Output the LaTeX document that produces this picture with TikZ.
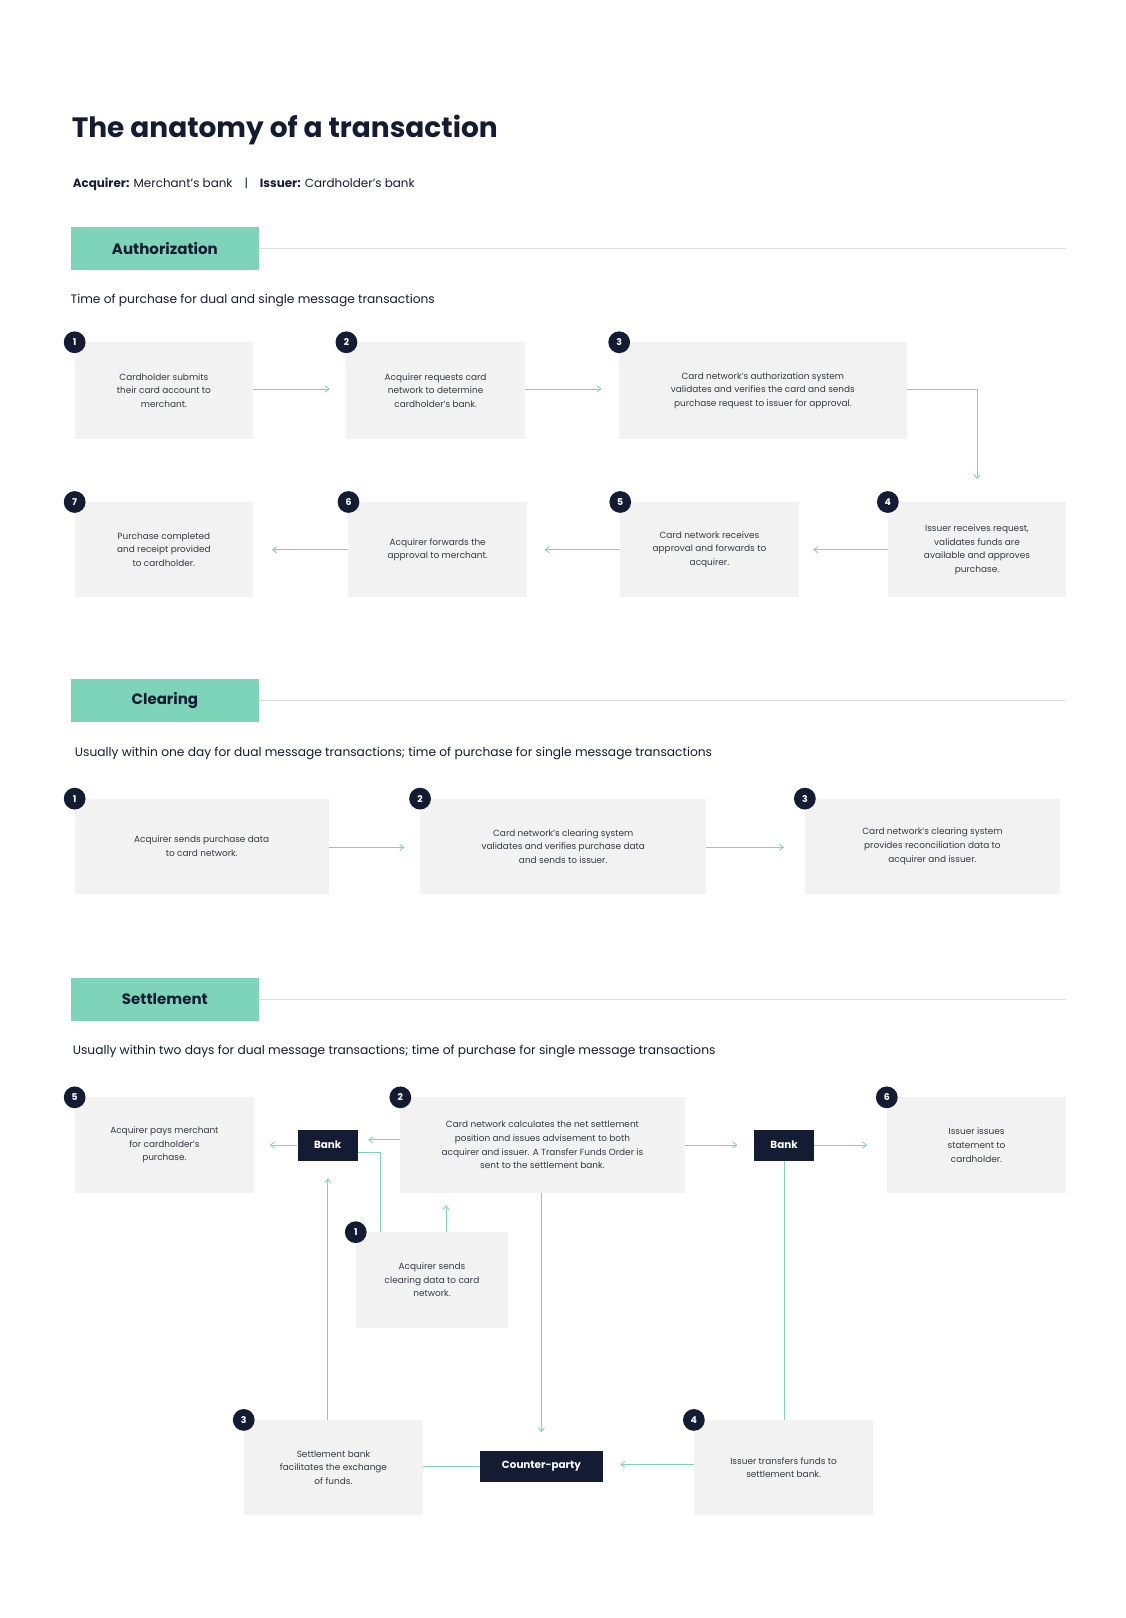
\documentclass[tikz,border=0pt]{standalone}
\usepackage{fontspec}
\setmainfont{Poppins}
\usetikzlibrary{arrows.meta}
\definecolor{navy}{HTML}{141C33}
\definecolor{teal}{HTML}{7DD4B9}
\definecolor{boxg}{HTML}{F2F2F2}
\definecolor{lineg}{HTML}{DDDDDD}
\definecolor{txt}{HTML}{333845}
\tikzset{
  stepbox/.style={fill=boxg,draw=none,inner sep=0pt},
  btxt/.style={text=txt,align=center,font=\fontsize{8.6}{13.2}\selectfont},
  badge/.style={circle,fill=navy,text=white,inner sep=0pt,minimum size=21pt,font=\fontsize{9}{9}\selectfont\bfseries},
  dark/.style={fill=navy,text=white,inner sep=0pt,font=\fontsize{10}{10}\selectfont\bfseries},
  hdr/.style={fill=teal,text=navy,inner sep=0pt,font=\fontsize{14.5}{14.5}\selectfont\bfseries},
  arr/.style={draw=teal,line width=0.8pt,-{Straight Barb[length=4pt,width=6pt]}},
  ln/.style={draw=teal,line width=0.8pt},
  desc/.style={anchor=base west,text=navy,inner sep=0pt,font=\fontsize{11.8}{12}\selectfont},
}
\newcommand{\stepb}[6]{% name, x1,y1,x2,y2, text
  \path[stepbox] (#2,#3) rectangle (#4,#5);
  \node[btxt] (#1) at ({(#2+#4)/2},{(#3+#5)/2}) {#6};
  \coordinate (#1nw) at (#2,#3);}
\begin{document}
\begin{tikzpicture}[x=1pt,y=-1pt]
\useasboundingbox[fill=white] (0,0) rectangle (1085,1560);
\node[anchor=base west,inner sep=0pt,text=navy,font=\fontsize{27}{27}\selectfont\bfseries] (title) at (69,133) {The anatomy of a transaction};
\node[anchor=base west,inner sep=0pt,text=navy,font=\fontsize{11.5}{12}\selectfont] (sub) at (70,181) {\textbf{Acquirer:} Merchant's bank\quad|\quad\textbf{Issuer:} Cardholder's bank};

% ---------- Authorization
\node[hdr,minimum width=182pt,minimum height=41pt] (h1) at (159,239.5) {Authorization};
\draw[lineg,line width=1pt] (h1.east) -- (1028,239.5);
\node[desc] (d1) at (68,293) {Time of purchase for dual and single message transactions};

\stepb{a1}{72}{330}{244}{423}{Cardholder submits\\their card account to\\merchant.}
\stepb{a2}{334}{330}{506}{423}{Acquirer requests card\\network to determine\\cardholder's bank.}
\stepb{a3}{597}{330}{874}{423}{Card network's authorization system\\validates and verifies the card and sends\\purchase request to issuer for approval.}
\stepb{a7}{72}{484}{244}{576}{Purchase completed\\and receipt provided\\to cardholder.}
\stepb{a6}{336}{484}{508}{576}{Acquirer forwards the\\approval to merchant.}
\stepb{a5}{598}{484}{770}{576}{Card network receives\\approval and forwards to\\acquirer.}
\stepb{a4}{856}{484}{1028}{576}{Issuer receives request,\\validates funds are\\available and approves\\purchase.}
\foreach \n/\b in {1/a1,2/a2,3/a3,4/a4,5/a5,6/a6,7/a7}{\node[badge] (b\b) at (\b nw) {\n};}
\coordinate (a1e) at (244,375); \coordinate (a2t) at (318,375);
\draw[arr] (a1e) -- (a2t);
\coordinate (a2e) at (506,375); \coordinate (a3t) at (580,375);
\draw[arr] (a2e) -- (a3t);
\coordinate (a3e) at (874,375); \coordinate (a4t) at (942,462);
\draw[arr] (a3e) -| (a4t);
\coordinate (a4w) at (856,530); \coordinate (a5t) at (784,530);
\draw[arr] (a4w) -- (a5t);
\coordinate (a5w) at (598,530); \coordinate (a6t) at (525,530);
\draw[arr] (a5w) -- (a6t);
\coordinate (a6w) at (336,530); \coordinate (a7t) at (262,530);
\draw[arr] (a6w) -- (a7t);

% ---------- Clearing
\node[hdr,minimum width=182pt,minimum height=41pt] (h2) at (159,675.5) {Clearing};
\draw[lineg,line width=1pt] (h2.east) -- (1028,675.5);
\node[desc] (d2) at (72,729) {Usually within one day for dual message transactions; time of purchase for single message transactions};
\stepb{c1}{72}{770}{317}{862}{Acquirer sends purchase data\\to card network.}
\stepb{c2}{405}{770}{681}{862}{Card network's clearing system\\validates and verifies purchase data\\and sends to issuer.}
\stepb{c3}{776}{770}{1022}{862}{Card network's clearing system\\provides reconciliation data to\\acquirer and issuer.}
\foreach \n/\b in {1/c1,2/c2,3/c3}{\node[badge] (b\b) at (\b nw) {\n};}
\coordinate (c1e) at (317,817); \coordinate (c2t) at (390,817);
\draw[arr] (c1e) -- (c2t);
\coordinate (c2e) at (681,817); \coordinate (c3t) at (756,817);
\draw[arr] (c2e) -- (c3t);

% ---------- Settlement
\node[hdr,minimum width=182pt,minimum height=41pt] (h3) at (159,963.5) {Settlement};
\draw[lineg,line width=1pt] (h3.east) -- (1028,963.5);
\node[desc] (d3) at (70,1017) {Usually within two days for dual message transactions; time of purchase for single message transactions};
\stepb{s5}{72}{1058}{245}{1150}{Acquirer pays merchant\\for cardholder's\\purchase.}
\stepb{s2}{386}{1058}{660}{1150}{Card network calculates the net settlement\\position and issues advisement to both\\acquirer and issuer. A Transfer Funds Order is\\sent to the settlement bank.}
\stepb{s6}{855}{1058}{1028}{1150}{Issuer issues\\statement to\\cardholder.}
\stepb{s1}{343}{1188}{490}{1280}{Acquirer sends\\clearing data to card\\network.}
\stepb{s3}{235}{1369}{408}{1461}{Settlement bank\\facilitates the exchange\\of funds.}
\stepb{s4}{669}{1369}{842}{1461}{Issuer transfers funds to\\settlement bank.}
\foreach \n/\b in {1/s1,2/s2,3/s3,4/s4,5/s5,6/s6}{\node[badge] (b\b) at (\b nw) {\n};}
\node[dark,minimum width=58pt,minimum height=30pt] (bank1) at (316,1104) {Bank};
\node[dark,minimum width=58pt,minimum height=30pt] (bank2) at (756,1104) {Bank};
\node[dark,minimum width=118pt,minimum height=30pt] (cp) at (522,1414) {Counter-party};

\coordinate (s2w) at (386,1099); \coordinate (bk1t) at (355,1099);
\draw[arr] (s2w) -- (bk1t);
\coordinate (bk1l) at (260,1104);
\draw[arr] (bank1.west) -- (bk1l);
\coordinate (bk1r) at (345,1111); \coordinate (s1a) at (367,1188);
\draw[ln] (bk1r) -| (s1a);
\coordinate (s1b) at (430,1188); \coordinate (s2b) at (430,1162);
\draw[arr] (s1b) -- (s2b);
\coordinate (s2e) at (660,1104); \coordinate (bk2t) at (711,1104);
\draw[arr] (s2e) -- (bk2t);
\coordinate (s6t) at (836,1104);
\draw[arr] (bank2.east) -- (s6t);
\coordinate (s4t) at (756,1369);
\draw[ln] (bank2.south) -- (s4t);
\coordinate (s2bb) at (522,1150); \coordinate (cpt) at (522,1381);
\draw[arr] (s2bb) -- (cpt);
\coordinate (s4w) at (669,1412); \coordinate (cpr) at (598,1412);
\draw[arr] (s4w) -- (cpr);
\coordinate (s3e) at (408,1414);
\draw[ln] (s3e) -- (cp.west);
\coordinate (s3t) at (316,1369); \coordinate (bk1b) at (316,1136);
\draw[arr] (s3t) -- (bk1b);
\end{tikzpicture}
\end{document}
